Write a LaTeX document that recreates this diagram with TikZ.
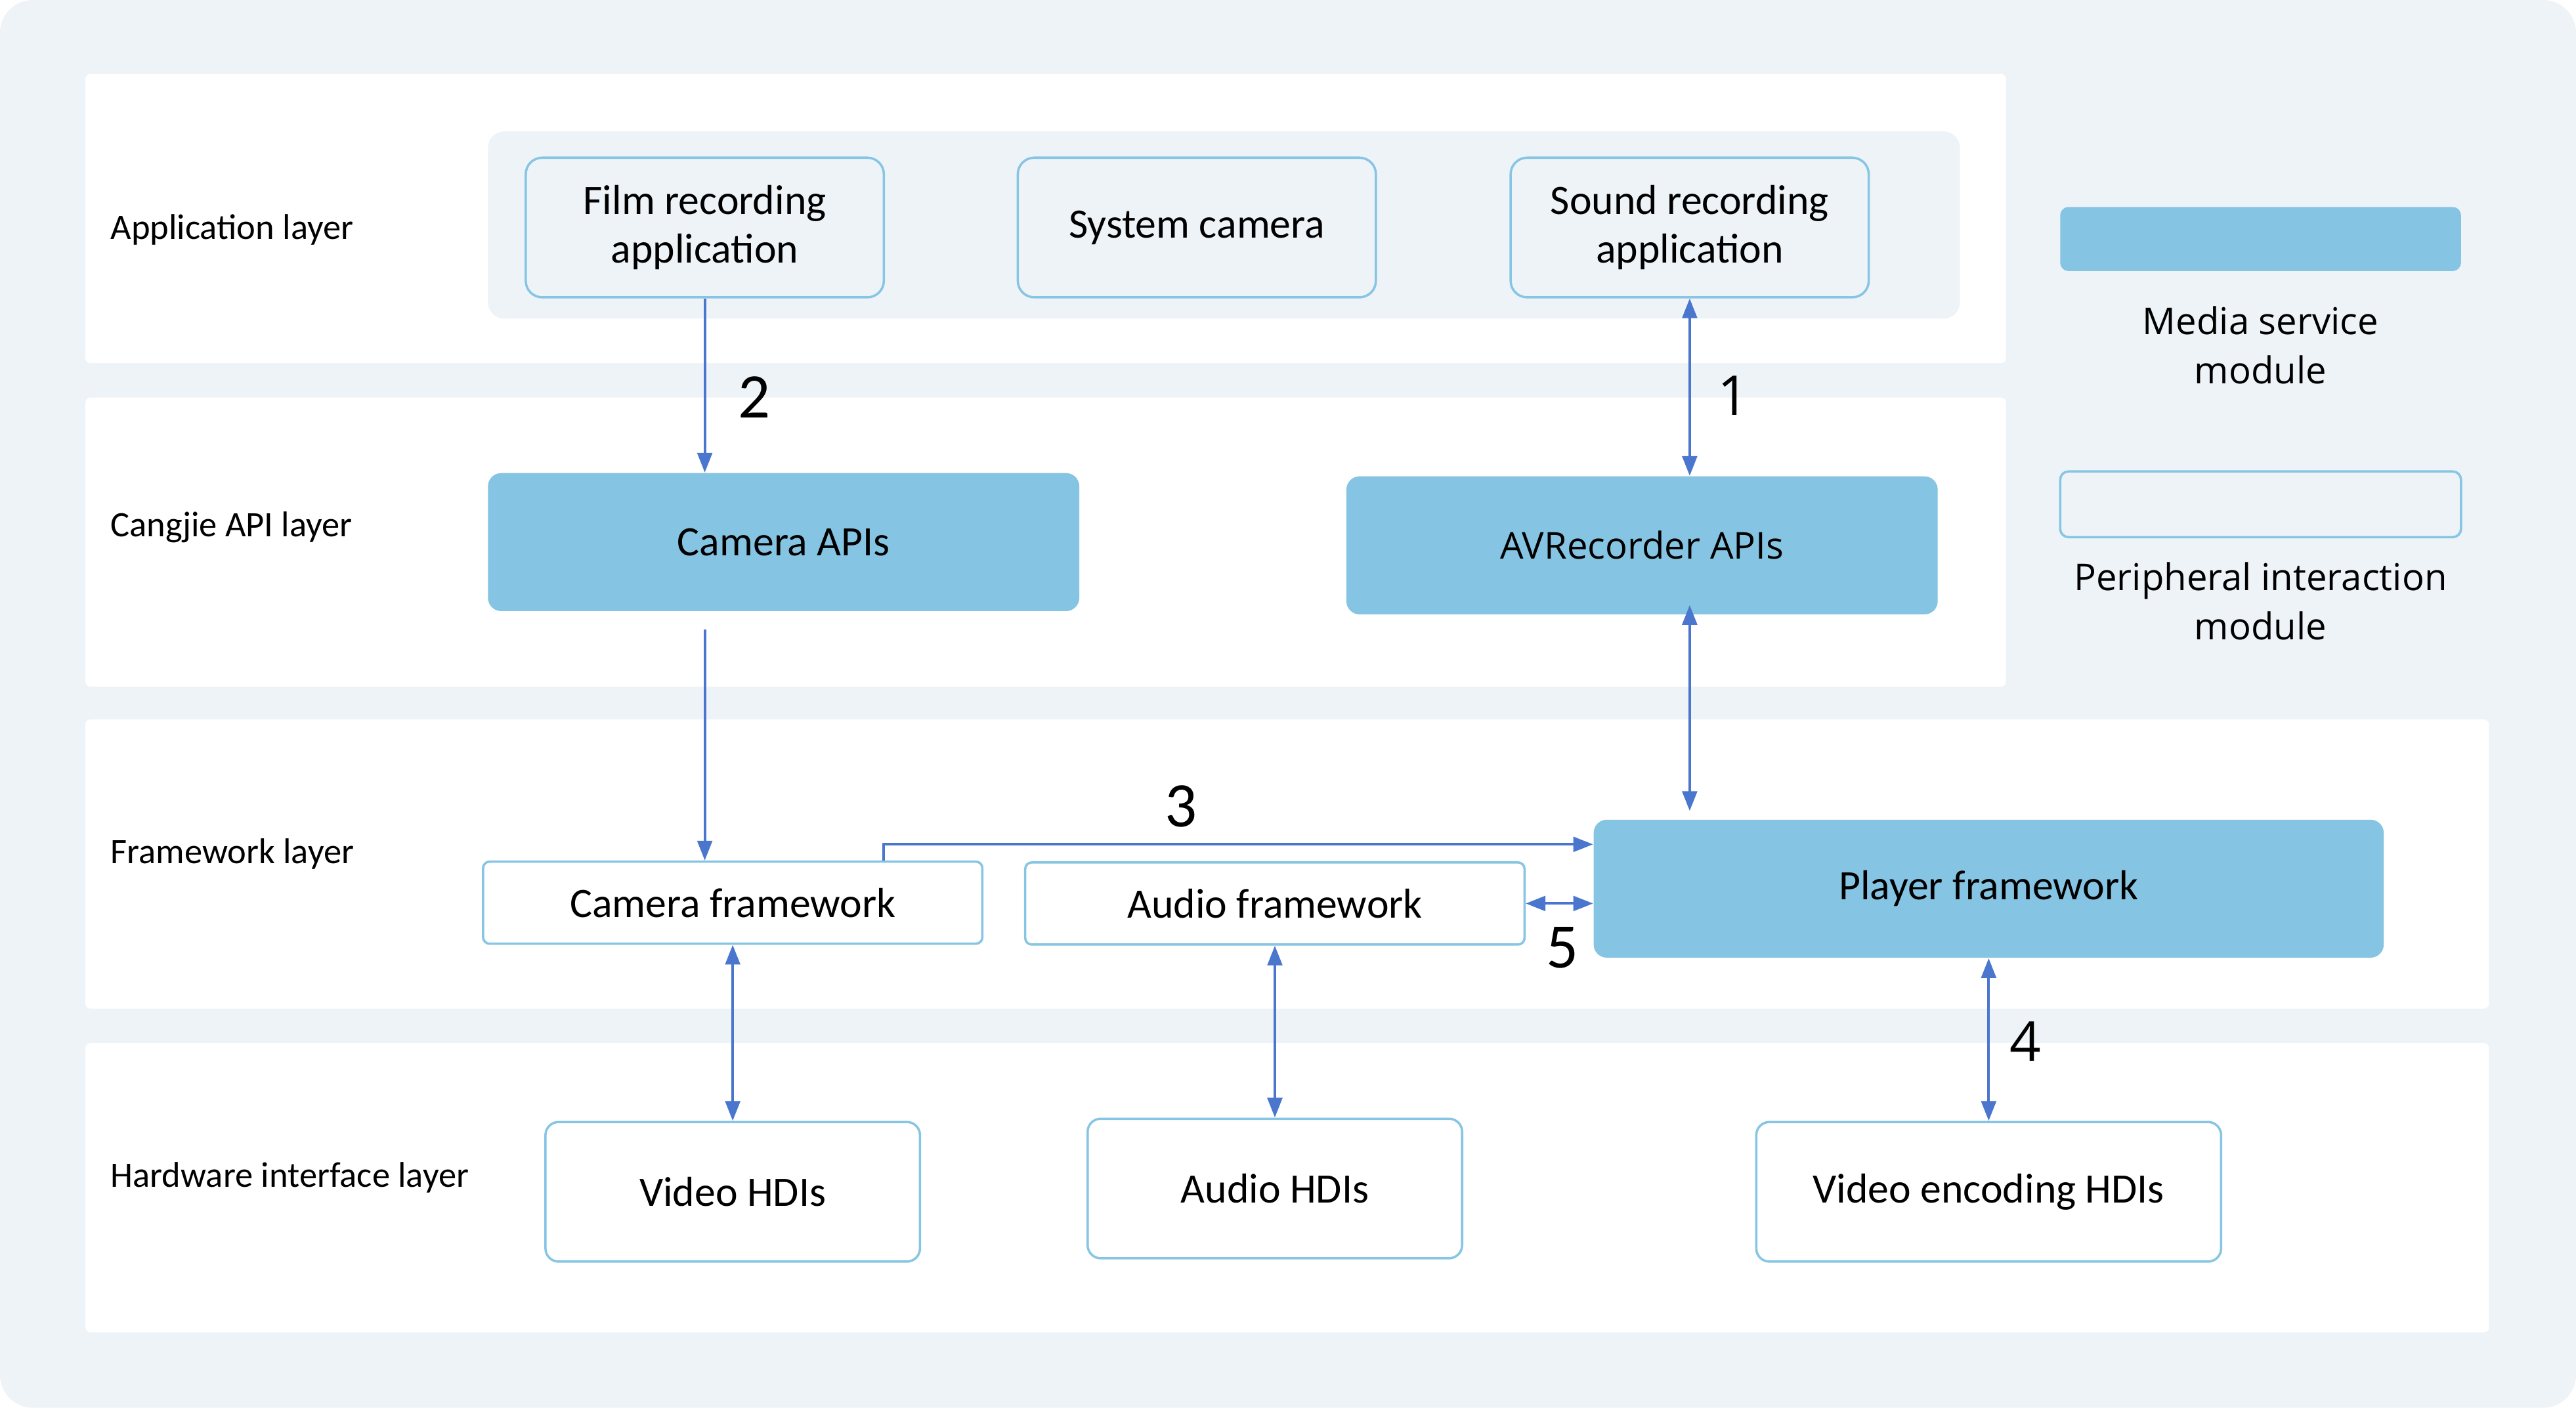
\documentclass[tikz,border=0pt]{standalone}
\usepackage{fontspec}
\setmainfont{Carlito}
\newfontfamily\segoe{Open Sans}
\usetikzlibrary{arrows.meta, positioning, calc}

\definecolor{panelbg}{RGB}{238,243,248}
\definecolor{modline}{RGB}{134,197,227}
\definecolor{modfill}{RGB}{133,196,226}
\definecolor{linkcol}{RGB}{74,118,205}

\begin{document}
\begin{tikzpicture}[x=0.02cm, y=-0.02cm,
    >={Triangle[length=0.24cm, width=0.18cm]},
    layerpanel/.style={fill=white, rounded corners=0.06cm},
    layerlabel/.style={anchor=west, inner sep=0pt, font=\fontsize{12.4}{15}\selectfont},
    boxfont/.style={font=\fontsize{14.5}{17}\selectfont},
    appbox/.style={boxfont, draw=modline, line width=0.8pt, fill=panelbg,
                   rounded corners=0.2cm, minimum width=4.36cm,
                   minimum height=1.7cm, align=center},
    mediabox/.style={boxfont, fill=modfill, rounded corners=0.16cm,
                     minimum width=7.2cm, minimum height=1.68cm},
    fwbox/.style={boxfont, draw=modline, line width=0.8pt, fill=white,
                  rounded corners=0.08cm, minimum width=6.08cm,
                  minimum height=1.0cm},
    hdibox/.style={boxfont, draw=modline, line width=0.8pt, fill=white,
                   rounded corners=0.16cm, minimum width=4.56cm,
                   minimum height=1.7cm},
    link/.style={linkcol, line width=0.9pt},
    stepnum/.style={font=\fontsize{22}{26}\selectfont},
    legendtext/.style={align=center, font=\segoe\fontsize{12.8}{17}\selectfont}]

  % background and layer panels
  \useasboundingbox (0,0) rectangle (1568,857);
  \fill[panelbg, rounded corners=0.4cm] (0,0) rectangle (1568,857);
  \fill[layerpanel] (52,45) rectangle (1221,221);
  \fill[layerpanel] (52,242) rectangle (1221,418);
  \fill[layerpanel] (52,438) rectangle (1515,614);
  \fill[layerpanel] (52,635) rectangle (1515,811);
  \fill[panelbg, rounded corners=0.2cm] (297,80) rectangle (1193,194);

  \node[layerlabel] (lapp) at (67,140) {Application layer};
  \node[layerlabel] (lapi) at (67,321) {Cangjie API layer};
  \node[layerlabel] (lfw) at (67,520) {Framework layer};
  \node[layerlabel] (lhw) at (67,717) {Hardware interface layer};

  % application layer
  \node[appbox] (film) at (429,138.5) {Film recording\\application};
  \node[appbox] (syscam) at (728.5,138.5) {System camera};
  \node[appbox] (sound) at (1028.5,138.5) {Sound recording\\application};

  % Cangjie API layer
  \node[mediabox] (capi) at (477,330) {Camera APIs};
  \node[mediabox, font=\segoe\fontsize{12.8}{15}\selectfont] (avr) at (999.5,332) {AVRecorder APIs};

  % framework layer
  \node[fwbox] (cfw) at (446,549.5) {Camera framework};
  \node[fwbox] (afw) at (776,550) {Audio framework};
  \node[mediabox, minimum width=9.62cm] (player) at (1210.5,541) {Player framework};

  % hardware interface layer
  \node[hdibox] (vhdi) at (446,725.5) {Video HDIs};
  \node[hdibox] (ahdi) at (776,723.5) {Audio HDIs};
  \node[hdibox, minimum width=5.66cm] (vehdi) at (1210.5,725.5) {Video encoding HDIs};

  % legend
  \node[fill=modfill, rounded corners=0.1cm, minimum width=4.88cm,
        minimum height=0.78cm] (legmedia) at (1376,145.5) {};
  \node[legendtext] (legmediatxt) at (1376,210) {Media service\\module};
  \node[draw=modline, line width=0.8pt, rounded corners=0.1cm,
        minimum width=4.88cm, minimum height=0.8cm] (legperi) at (1376,307) {};
  \node[legendtext] (legperitxt) at (1376,366) {Peripheral interaction\\module};

  % connectors
  \draw[link, ->] (film.south) -- (film.south |- capi.north);
  \draw[link, <->] (sound.south) -- (sound.south |- avr.north);
  \draw[link, ->] ($(capi.south -| film.south)+(0,11)$) -- (film.south |- cfw.north);
  \draw[link, <->] ($(avr.south -| sound.south)+(0,-6)$) -- ($(player.north -| sound.south)+(0,-5)$);
  \draw[link, ->] ($(cfw.north)+(92,0)$) |- ($(player.west)+(0,-27)$);
  \draw[link, <->] (afw.east) -- (afw.east -| player.west);
  \draw[link, <->] (cfw.south) -- (vhdi.north);
  \draw[link, <->] (afw.south) -- (ahdi.north);
  \draw[link, <->] (player.south) -- (vehdi.north);

  \node[stepnum] (n2) at (459,242) {2};
  \node[stepnum, font=\segoe\fontsize{19}{22}\selectfont] (n1) at (1055,241) {1};
  \node[stepnum] (n3) at (719,491) {3};
  \node[stepnum] (n5) at (951,577) {5};
  \node[stepnum, font=\segoe\fontsize{19}{22}\selectfont] (n4) at (1233,634) {4};
\end{tikzpicture}
\end{document}
